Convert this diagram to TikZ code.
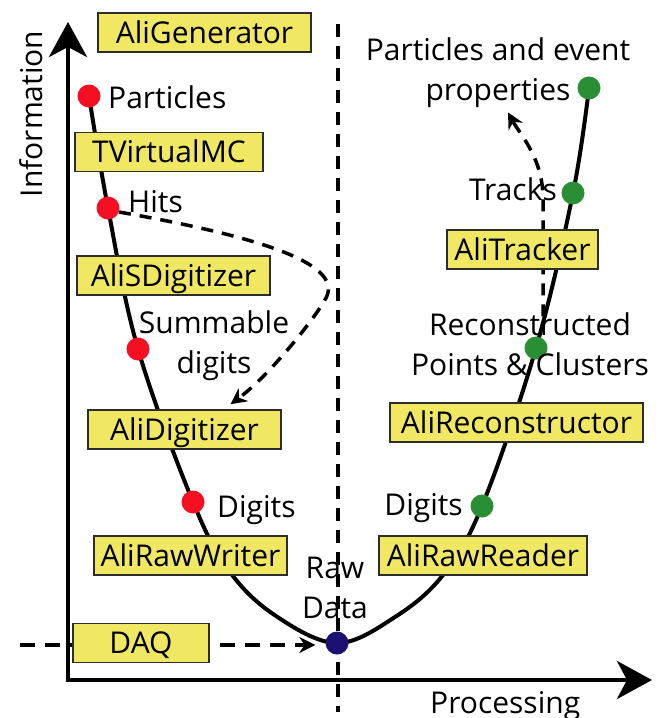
\documentclass[tikz,border=0pt]{standalone}
\usepackage{fontspec}
\setmainfont{Open Sans}
\usepackage{xcolor}
\definecolor{boxyellow}{RGB}{240,232,98}
\definecolor{boxline}{RGB}{45,45,45}
\definecolor{dotred}{RGB}{245,15,35}
\definecolor{dotgreen}{RGB}{42,142,52}
\definecolor{dotblue}{RGB}{28,16,112}
\usetikzlibrary{arrows.meta,backgrounds}
\newcommand{\labfont}{\fontsize{30}{40}\selectfont}

\begin{document}
\begin{tikzpicture}[x=1pt,y=-1pt,
  modbox/.style={draw=boxline,fill=boxyellow,line width=1.5pt,inner sep=0pt,minimum height=39pt,text height=30pt,text depth=9pt,font=\labfont},
  lab/.style={inner sep=0pt,font=\labfont},
  stage/.style={circle,inner sep=0pt,minimum size=23pt},
  flow/.style={line width=3.5pt,dash pattern=on 12pt off 9pt,-{Stealth[length=16pt,width=16pt]}}]
  \useasboundingbox (0,0) rectangle (657,718);
  % simulation side
  \node[modbox,minimum width=213pt] (agen) at (204.5,32.5) {AliGenerator};
  \node[modbox,minimum width=188pt] (vmc) at (169,152) {TVirtualMC};
  \node[modbox,minimum width=193pt] (sdigi) at (173.5,275.5) {AliSDigitizer};
  \node[modbox,minimum width=193pt] (adigi) at (184.5,429.5) {AliDigitizer};
  \node[modbox,minimum width=193pt] (rwriter) at (190.5,555.5) {AliRawWriter};
  \node[modbox,minimum width=136pt] (daq) at (141,643) {DAQ};
  % reconstruction side
  \node[modbox,minimum width=151pt] (tracker) at (522.5,249.5) {AliTracker};
  \node[modbox,minimum width=253pt] (reco) at (516.5,422.5) {AliReconstructor};
  \node[modbox,minimum width=208pt] (rreader) at (483,555.5) {AliRawReader};
  % data stages
  \node[stage,fill=dotred] (sparts) at (89,96) {};
  \node[stage,fill=dotred] (shits) at (108,208) {};
  \node[stage,fill=dotred] (ssdig) at (138,349) {};
  \node[stage,fill=dotred] (sdig) at (193,502) {};
  \node[stage,fill=dotblue] (sraw) at (337,643) {};
  \node[stage,fill=dotgreen] (rdig) at (482,506) {};
  \node[stage,fill=dotgreen] (rclus) at (536,348) {};
  \node[stage,fill=dotgreen] (rtrk) at (573,193) {};
  \node[stage,fill=dotgreen] (resd) at (589,88) {};
  \node[lab,anchor=base west] (lparts) at (108,108) {Particles};
  \node[lab,anchor=base west] (lhits) at (128,212) {Hits};
  \node[lab,anchor=base,align=center] (lsdig) at (214,373) {Summable\\digits};
  \node[lab,anchor=base west] (ldig) at (217,517) {Digits};
  \node[lab,anchor=base,align=center] (lraw) at (335,618) {Raw\\Data};
  \node[lab,anchor=base east] (rldig) at (463,515) {Digits};
  \node[lab,anchor=base,align=center] (rlclus) at (530,375) {Reconstructed\\Points \& Clusters};
  \node[lab,anchor=base east] (rltrk) at (557,200) {Tracks};
  \node[lab,anchor=base,align=center] (pevent) at (498,100) {Particles and event\\properties};
  % axes labels
  \node[lab,rotate=90,anchor=base] (yaxis) at (42,114) {Information};
  \node[lab,anchor=base west] (xaxis) at (430,713) {Processing};
  \begin{scope}[on background layer]
    \coordinate (orig) at (68,680);
    \coordinate (ytip) at (68,22);
    \coordinate (xtip) at (652,680);
    \draw[line width=4pt,{Stealth[length=35pt,width=38pt,inset=10pt]}-{Stealth[length=35pt,width=38pt,inset=10pt]}] (ytip) -- (orig) -- (xtip);
    \coordinate (dtop) at (338,24);
    \coordinate (dbot) at (338,712);
    \draw[line width=3.5pt,dash pattern=on 13pt off 9pt] (dtop) -- (dbot);
    % the chain
    \draw[line width=4pt] plot[smooth,tension=0.6] coordinates {(sparts.center) (shits.center) (ssdig.center) (sdig.center) (230,572) (276,616) (sraw.center) (395,617) (443,575) (rdig.center) (rclus.center) (rtrk.center) (resd.center)};
    % merging and feedback
    \draw[flow] (shits.-20) .. controls (250,235) and (345,262) .. (326,298) .. controls (316,317) and (270,375) .. ([shift={(46pt,5pt)}]adigi.north);
    \draw[flow] ([shift={(7pt,20pt)}]rclus.north) -- ++(0,-118) .. controls +(0,-40) and +(12,22) .. ([shift={(10pt,-5pt)}]pevent.south);
    \coordinate (daqin) at (20,645);
    \draw[flow,dash pattern=on 15pt off 10pt,shorten >=10pt] (daqin) -- (sraw.west |- daqin);
  \end{scope}
\end{tikzpicture}
\end{document}
